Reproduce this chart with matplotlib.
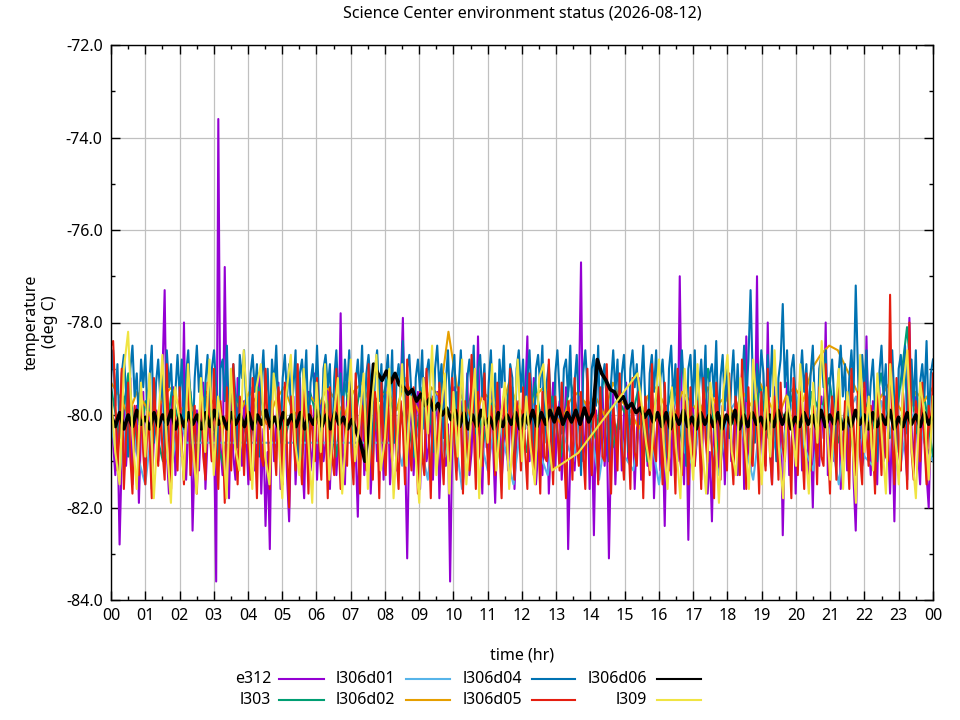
import numpy as np
import matplotlib
matplotlib.use("Agg")
from matplotlib import pyplot as plt
from matplotlib.lines import Line2D
from matplotlib.ticker import MultipleLocator

plt.rcParams['font.family'] = ['Noto Sans', 'DejaVu Sans']
plt.rcParams['font.size'] = 11.5

# ---- data (deg C) ----
# e312, l306d04, l306d05: one reading every ~3.75 min (16 per row = 1 hour)
e312 = [
  -79.4, -80.6, -81.3, -80.2, -82.8, -80.9, -79.6, -81.1, -80.4, -79.2, -81.5, -80.7, -79.8, -81.9, -80.3, -79.5,
  -81.2, -80.1, -79.3, -81.6, -80.5, -79.9, -81.0, -80.2, -79.1, -77.3, -80.8, -81.7, -80.0, -79.4, -81.3, -80.6,
  -79.7, -80.9, -78.0, -81.4, -80.3, -79.5, -82.5, -80.8, -79.9, -81.2, -80.1, -79.3, -81.6, -80.5, -79.8, -81.0,
  -80.4, -83.6, -73.6, -80.7, -81.3, -76.8, -80.2, -81.8, -79.6, -80.9, -81.4, -79.2, -80.6, -81.1, -79.7, -80.3,
  -81.5, -80.0, -79.4, -81.2, -80.6, -79.1, -81.7, -80.3, -82.4, -80.8, -82.9, -79.5, -81.0, -80.2, -79.3, -81.6,
  -80.5, -79.8, -81.3, -82.3, -80.1, -79.6, -81.5, -80.4, -79.2, -80.9, -81.8, -80.0, -79.5, -81.2, -80.7, -79.1,
  -81.4, -80.3, -79.7, -81.0, -80.6, -79.3, -81.6, -80.2, -79.9, -81.3, -80.5, -77.8, -80.8, -81.5, -79.6, -80.1,
  -79.4, -81.1, -80.7, -82.2, -80.0, -79.5, -81.3, -80.4, -79.2, -81.7, -80.6, -79.8, -81.0, -80.3, -79.6, -81.4,
  -80.2, -79.3, -81.5, -80.8, -79.7, -81.2, -80.1, -79.4, -77.9, -80.6, -83.1, -80.4, -79.6, -81.3, -80.0, -79.5,
  -81.6, -80.3, -79.2, -81.0, -80.7, -79.8, -81.4, -80.1, -79.5, -81.8, -80.5, -79.3, -81.1, -80.2, -83.6, -80.6,
  -79.4, -81.2, -80.0, -79.7, -81.5, -80.4, -79.1, -81.3, -80.8, -79.6, -81.0, -78.3, -80.5, -81.7, -79.9, -80.3,
  -81.1, -79.5, -80.6, -81.9, -80.2, -79.3, -81.4, -80.7, -79.8, -81.2, -80.1, -79.4, -81.6, -80.5, -79.7, -80.9,
  -80.3, -79.6, -78.3, -81.0, -80.4, -79.2, -81.5, -80.8, -79.9, -81.3, -80.0, -79.5, -81.7, -80.6, -79.3, -81.1,
  -80.2, -79.7, -81.4, -80.5, -79.4, -82.9, -80.9, -79.8, -81.2, -80.3, -79.6, -76.7, -81.0, -80.4, -79.5, -81.6,
  -80.1, -82.6, -79.9, -81.3, -80.6, -79.4, -81.1, -80.2, -83.1, -80.7, -79.5, -81.5, -80.3, -79.8, -81.2, -80.0,
  -79.3, -81.0, -80.6, -79.7, -81.6, -80.4, -79.2, -81.4, -80.8, -79.6, -81.1, -80.1, -79.4, -81.8, -80.5, -79.9,
  -81.2, -80.3, -82.4, -79.8, -80.9, -81.3, -79.5, -80.6, -81.0, -77.0, -80.4, -81.5, -79.7, -82.7, -80.2, -79.4,
  -81.1, -80.5, -79.6, -81.4, -80.0, -79.3, -81.7, -80.8, -82.3, -80.2, -79.5, -81.2, -80.6, -79.8, -81.5, -80.1,
  -79.4, -81.0, -80.5, -79.7, -81.3, -80.2, -79.1, -81.6, -78.3, -80.7, -81.2, -79.6, -80.4, -77.0, -81.4, -80.3,
  -79.8, -81.1, -78.0, -80.6, -81.5, -79.4, -80.2, -81.0, -79.7, -82.6, -80.4, -79.3, -81.3, -80.8, -79.6, -81.7,
  -80.1, -79.5, -81.2, -80.7, -79.2, -81.4, -80.3, -82.0, -79.8, -80.9, -81.1, -79.6, -80.5, -78.0, -81.3, -80.2,
  -79.7, -81.0, -80.4, -79.3, -81.6, -80.6, -79.9, -81.2, -80.1, -79.5, -81.4, -82.5, -80.3, -79.6, -81.1, -80.8,
  -78.3, -80.5, -81.3, -79.7, -80.2, -81.5, -79.4, -80.9, -81.0, -79.6, -80.4, -81.7, -80.1, -82.3, -79.8, -80.6,
  -81.2, -79.5, -80.7, -81.4, -77.9, -80.3, -81.1, -79.6, -80.8, -81.5, -79.9, -80.4, -81.3, -82.0, -80.2, -79.7,
]

l303 = [
  -79.4, -80.5, -79.1, -80.8, -79.7, -80.2, -81.0, -79.5, -80.3, -79.2, -80.9, -79.6, -80.4, -81.1, -79.3, -80.0,
  -80.7, -79.4, -80.1, -79.0, -80.6, -79.8, -81.0, -79.5, -80.2, -79.7, -80.9, -79.3, -80.4, -79.1, -80.7, -79.9,
  -79.2, -80.5, -79.8, -80.9, -79.4, -80.2, -79.6, -80.8, -79.5, -80.3, -79.0, -80.6, -79.7, -81.0, -79.4, -80.1,
  -80.8, -79.3, -80.4, -79.6, -80.9, -79.2, -80.0, -79.7, -80.5, -79.1, -80.7, -79.8, -80.2, -79.4, -81.0, -79.6,
  -80.1, -79.3, -80.6, -79.9, -80.4, -79.0, -80.8, -79.5, -80.2, -79.6, -80.9, -79.3, -80.5, -79.8, -80.1, -79.4,
  -80.7, -79.5, -80.0, -79.2, -80.6, -79.8, -81.0, -79.6, -80.3, -79.1, -80.5, -79.7, -78.1, -80.4, -79.6, -80.9,
]

# l306d01 has a data gap from 02:12 to 08:21 (joined by a straight line)
l306d01_hr = np.concatenate([np.arange(0, 2.25, 0.25), [2.2, 8.35], np.arange(8.5, 24.01, 0.25)])
l306d01 = [
  -80.2, -81.3, -79.6, -80.8, -81.5, -79.9, -80.6, -81.2, -80.0,
  -80.6, -80.6,
  -81.1, -79.8, -80.5, -81.4, -79.6, -80.9, -80.2, -81.6,
  -79.7, -80.4, -81.2, -79.9, -80.7, -81.5, -80.0, -79.5,
  -80.8, -81.3, -79.8, -80.5, -81.0, -79.6, -80.3, -81.4,
  -80.1, -79.7, -80.9, -81.2, -79.9, -80.4, -81.5, -80.2,
  -79.6, -80.8, -81.1, -79.8, -80.5, -81.3, -80.0, -79.7,
  -80.6, -81.4, -79.9, -80.3, -81.0, -80.1, -79.5, -80.7,
  -81.2, -79.8, -80.4, -81.5, -80.0, -79.6, -80.9, -81.1,
  -79.7, -80.3, -81.3, -80.2, -79.9, -80.6, -81.0,
]

l306d02 = [
  -79.3, -79.6, -80.0, -79.5, -79.8, -80.2, -79.6, -79.4, -79.9, -79.7, -80.1, -79.5, -79.8, -80.3, -79.6, -79.9,
  -79.5, -79.8, -80.2, -79.7, -79.4, -79.9, -80.1, -79.6, -79.8, -79.4, -79.7, -80.0, -79.5, -79.3, -79.8, -79.6,
  -79.5, -79.9, -79.2, -79.7, -80.1, -79.4, -79.6, -78.2, -79.4, -79.8, -80.2, -79.5, -79.7, -80.0, -79.3, -79.8,
  -80.1, -79.6, -79.4, -79.9, -80.2, -79.7, -79.5, -79.8, -79.6, -80.0, -79.3, -79.7, -79.9, -80.3, -79.6, -79.4,
  -79.8, -80.1, -79.5, -79.7, -80.0, -79.4, -79.8, -79.6, -80.0, -79.5, -79.8, -79.3, -79.7, -80.1, -79.6, -79.4,
  -79.7, -79.0, -78.7, -78.5, -78.6, -79.0, -79.4, -79.8, -80.0, -79.6, -79.3, -79.8, -80.1, -79.5, -79.7, -79.4,
]

l306d04 = [
  -79.2, -78.6, -79.8, -78.9, -80.4, -79.1, -78.7, -79.5, -80.9, -79.0, -78.5, -79.6, -79.1, -80.2, -78.8, -79.4,
  -78.7, -79.9, -79.2, -78.5, -80.6, -79.3, -78.8, -79.7, -79.0, -81.0, -78.6, -79.4, -78.9, -80.1, -79.5, -78.7,
  -79.6, -78.8, -80.3, -79.1, -78.6, -79.8, -80.8, -79.2, -78.5, -79.5, -78.9, -80.5, -79.3, -78.7, -79.9, -79.0,
  -78.6, -79.4, -81.1, -79.0, -78.8, -79.7, -78.5, -80.2, -79.3, -78.9, -79.6, -80.7, -78.7, -79.2, -78.6, -79.8,
  -80.4, -79.1, -78.7, -79.5, -78.9, -80.9, -79.3, -78.6, -79.7, -79.0, -80.3, -78.8, -79.4, -78.5, -79.9, -80.6,
  -79.2, -78.7, -79.6, -78.9, -80.1, -79.4, -78.6, -81.0, -79.1, -78.8, -79.5, -78.6, -80.4, -79.3, -78.9, -79.7,
  -78.5, -79.8, -80.5, -79.0, -78.7, -79.4, -78.9, -80.8, -79.2, -78.6, -79.7, -79.1, -80.2, -78.8, -79.5, -78.6,
  -79.9, -80.7, -79.3, -78.8, -79.6, -78.5, -80.3, -79.1, -78.7, -79.4, -81.1, -79.0, -78.6, -79.7, -78.9, -80.4,
  -79.2, -78.7, -79.8, -78.6, -80.6, -79.3, -78.9, -79.5, -78.4, -80.1, -79.0, -78.7, -79.6, -80.9, -79.2, -78.8,
  -79.5, -78.6, -80.3, -79.1, -78.8, -79.7, -80.8, -79.0, -78.5, -79.4, -78.9, -80.5, -79.3, -78.6, -79.9, -79.1,
  -78.7, -80.2, -79.4, -78.6, -79.8, -81.0, -79.2, -78.8, -79.5, -78.5, -80.4, -79.0, -78.7, -79.6, -78.9, -80.7,
  -79.3, -78.6, -79.9, -79.1, -80.5, -78.8, -79.4, -78.5, -80.1, -79.7, -78.9, -79.2, -81.0, -79.0, -78.6, -79.5,
  -78.8, -80.3, -79.2, -78.6, -79.7, -80.9, -79.0, -78.7, -79.4, -78.5, -80.6, -79.3, -78.9, -79.8, -81.2, -79.1,
  -78.6, -79.5, -80.4, -79.0, -78.8, -79.6, -78.5, -80.2, -79.3, -78.7, -79.9, -81.3, -79.1, -78.6, -79.4, -80.7,
  -79.0, -78.7, -79.8, -78.5, -80.5, -79.2, -78.9, -79.6, -81.0, -79.3, -78.6, -79.5, -78.8, -80.3, -79.1, -78.7,
  -79.7, -80.8, -79.0, -78.6, -79.4, -78.9, -80.2, -79.3, -78.5, -79.8, -80.6, -79.1, -78.7, -79.5, -78.6, -80.1,
  -79.2, -78.8, -79.6, -80.9, -79.0, -78.5, -79.7, -78.9, -80.4, -79.3, -78.6, -79.5, -81.1, -79.0, -78.7, -79.8,
  -78.6, -80.2, -79.4, -78.8, -79.7, -78.5, -80.7, -79.1, -78.9, -79.6, -78.4, -80.3, -79.2, -78.7, -79.9, -79.0,
  -80.5, -79.3, -78.6, -79.8, -78.9, -80.1, -79.4, -78.5, -79.7, -78.8, -77.3, -79.2, -80.6, -78.9, -79.5, -78.6,
  -79.1, -80.4, -78.7, -79.6, -78.5, -79.9, -81.0, -79.2, -78.8, -77.6, -79.4, -78.6, -80.3, -79.0, -78.7, -79.7,
  -80.8, -79.3, -78.6, -79.5, -78.9, -80.2, -79.1, -78.5, -79.8, -80.6, -79.0, -78.7, -79.4, -78.6, -80.1, -79.3,
  -78.8, -79.7, -80.9, -79.1, -78.5, -79.6, -78.9, -80.4, -79.2, -78.6, -79.5, -77.2, -79.0, -80.5, -78.7, -79.4,
  -78.6, -80.1, -79.3, -78.8, -79.9, -81.0, -79.1, -78.5, -79.6, -78.9, -80.3, -79.2, -78.6, -79.7, -80.8, -79.0,
  -78.7, -79.5, -78.5, -80.4, -79.2, -78.8, -79.8, -78.6, -80.6, -79.3, -78.9, -79.6, -78.4, -80.2, -79.1, -78.8,
]

l306d05 = [
  -78.5, -78.4, -79.6, -81.2, -80.3, -79.0, -81.6, -80.5, -79.3, -80.9, -81.7, -79.8, -80.4, -81.3, -79.5, -80.8,
  -81.5, -79.9, -80.6, -81.8, -79.2, -80.3, -81.1, -79.7, -80.8, -81.4, -78.9, -80.5, -81.6, -79.6, -80.1, -81.2,
  -79.4, -80.7, -81.5, -80.0, -79.1, -81.3, -80.6, -79.8, -81.7, -80.2, -79.5, -80.9, -81.4, -79.3, -80.4, -81.0,
  -79.0, -80.8, -81.6, -79.7, -80.3, -81.9, -79.4, -80.6, -81.2, -78.9, -80.5, -81.5, -79.6, -80.1, -81.3, -79.8,
  -80.7, -81.4, -79.2, -80.4, -81.8, -79.5, -80.9, -81.1, -79.0, -80.2, -81.6, -79.7, -80.6, -81.3, -79.4, -80.0,
  -81.5, -79.3, -80.7, -82.0, -79.6, -80.4, -81.2, -78.9, -80.8, -81.5, -79.5, -80.2, -81.7, -79.8, -80.5, -81.0,
  -79.2, -80.6, -81.4, -79.7, -80.1, -81.8, -79.4, -80.9, -81.3, -79.0, -80.5, -81.6, -79.6, -80.3, -81.1, -79.3,
  -80.8, -81.5, -79.1, -80.4, -81.7, -79.8, -80.2, -81.2, -78.9, -80.7, -81.4, -79.5, -80.0, -81.8, -79.3, -80.6,
  -81.3, -79.6, -80.5, -81.0, -79.2, -80.8, -81.6, -79.7, -80.3, -81.5, -78.8, -80.6, -81.2, -79.4, -80.1, -81.7,
  -79.5, -80.9, -81.3, -79.0, -80.4, -81.8, -79.6, -80.2, -81.1, -79.3, -80.7, -81.5, -79.8, -80.5, -81.0, -79.2,
  -80.6, -81.4, -79.4, -80.0, -81.7, -79.7, -80.8, -81.2, -78.7, -80.3, -81.6, -79.5, -80.9, -81.1, -79.1, -80.4,
  -81.5, -79.8, -80.2, -81.3, -79.3, -80.7, -81.8, -79.6, -80.4, -81.0, -79.0, -80.6, -81.4, -79.7, -80.1, -81.2,
  -79.4, -80.8, -81.6, -79.1, -80.5, -81.3, -79.8, -80.2, -81.7, -79.5, -80.9, -81.0, -78.8, -80.4, -81.5, -79.6,
  -80.3, -81.2, -79.3, -80.7, -81.8, -79.7, -80.1, -81.4, -79.2, -80.6, -81.1, -79.5, -80.8, -81.6, -79.0, -80.5,
  -81.3, -79.6, -80.2, -81.5, -79.4, -80.9, -81.0, -78.9, -80.6, -81.7, -79.8, -80.3, -81.2, -79.1, -80.7, -81.4,
  -79.7, -80.4, -81.6, -79.2, -80.8, -81.1, -79.5, -80.0, -81.8, -79.6, -80.5, -81.3, -78.9, -80.7, -81.0, -79.4,
  -80.2, -81.5, -79.3, -80.6, -81.2, -79.8, -80.4, -81.7, -79.0, -80.9, -81.3, -79.6, -80.1, -81.5, -79.4, -80.8,
  -81.1, -79.7, -80.3, -81.6, -79.2, -80.5, -81.0, -79.5, -80.8, -81.8, -79.3, -80.2, -81.4, -79.8, -80.6, -81.2,
  -79.1, -80.7, -81.5, -79.6, -80.0, -81.3, -78.8, -80.4, -81.6, -79.4, -80.9, -81.1, -79.7, -80.3, -81.7, -79.5,
  -80.6, -81.2, -79.0, -80.8, -81.5, -79.6, -80.2, -81.4, -79.3, -80.7, -81.0, -79.8, -80.5, -81.8, -79.2, -80.1,
  -81.3, -79.5, -80.7, -81.6, -79.1, -80.4, -81.2, -79.8, -80.0, -81.5, -79.4, -80.9, -81.1, -78.9, -80.6, -81.7,
  -79.6, -80.3, -81.4, -79.2, -80.8, -81.0, -79.7, -80.5, -81.6, -79.0, -80.2, -81.3, -79.5, -80.9, -81.5, -79.3,
  -80.4, -81.1, -79.8, -80.6, -81.7, -79.4, -80.2, -81.3, -79.6, -80.9, -81.0, -77.4, -80.5, -81.5, -79.2, -80.7,
  -81.2, -79.5, -80.3, -81.6, -78.0, -80.8, -81.4, -79.7, -80.1, -81.0, -79.3, -80.6, -81.5, -79.8, -80.4, -79.1,
]

# l306d06: one reading every 7.5 min
l306d06 = [
  -80.0, -80.25, -79.95, -80.3, -80.0, -80.25, -79.9, -80.2, -80.05, -80.3, -79.95, -80.25, -80.0, -80.2, -79.9, -80.3,
  -80.0, -80.25, -79.95, -80.2, -80.0, -80.3, -79.95, -80.25, -79.9, -80.2, -80.05, -80.3, -79.95, -80.2, -80.0, -80.25,
  -79.95, -80.3, -80.0, -80.2, -79.9, -80.25, -80.05, -80.3, -79.95, -80.2, -80.0, -80.25, -79.95, -80.3, -80.0, -80.2,
  -79.9, -80.25, -80.0, -80.3, -79.95, -80.2, -80.05, -80.3, -80.1, -80.35, -80.6, -81.0, -80.2, -78.9, -79.1, -79.25,
  -79.05, -79.3, -79.1, -79.35, -79.4, -79.55, -79.45, -79.7, -79.55, -79.8, -79.65, -79.9, -79.75, -80.0, -79.85, -80.1,
  -79.9, -80.25, -79.95, -80.3, -80.0, -80.25, -79.9, -80.2, -80.05, -80.3, -79.95, -80.25, -80.0, -80.2, -79.95, -80.3,
  -80.0, -80.2, -79.9, -80.25, -79.95, -80.2, -79.9, -80.15, -79.85, -80.2, -79.95, -80.15, -79.9, -80.2, -79.85, -80.15,
  -79.95, -78.8, -79.1, -79.25, -79.45, -79.5, -79.7, -79.6, -79.85, -79.75, -79.95, -79.85, -80.05, -79.9, -80.15, -79.95,
  -80.25, -79.95, -80.3, -80.0, -80.2, -79.9, -80.25, -80.05, -80.3, -79.95, -80.2, -80.0, -80.25, -79.95, -80.3, -80.0,
  -80.2, -79.9, -80.3, -80.0, -80.25, -79.95, -80.2, -80.05, -80.3, -80.0, -80.25, -79.9, -80.2, -79.95, -80.3, -80.05,
  -80.25, -79.95, -80.2, -80.0, -80.3, -79.9, -80.25, -80.0, -80.2, -79.95, -80.3, -80.05, -80.25, -79.9, -80.2, -80.0,
  -80.3, -79.95, -80.25, -80.0, -80.2, -79.9, -80.3, -80.05, -80.25, -79.95, -80.2, -80.0, -80.25, -79.95, -80.2, -80.0,
]

# l309 has a gap between 12:52 and 15:22 with one reading at 13:38
l309_hr = np.concatenate([np.arange(0, 13.0, 0.125), [13.64], np.arange(15.375, 24.01, 0.125)])
l309 = [
  -79.6, -80.8, -81.5, -79.0, -78.2, -80.4, -81.6, -79.3,
  -80.9, -79.1, -81.8, -80.2, -78.7, -80.6, -81.9, -79.4,
  -80.1, -81.4, -78.9, -80.5, -81.7, -79.2, -80.8, -78.8,
  -81.3, -79.6, -80.3, -81.8, -79.0, -80.7, -81.2, -78.6,
  -80.0, -81.6, -79.4, -78.9, -80.9, -81.5, -79.1, -80.2,
  -81.8, -79.5, -78.7, -80.6, -81.3, -79.0, -80.4, -81.9,
  -79.3, -80.8, -78.9, -81.4, -80.1, -79.2, -81.7, -80.3,
  -78.8, -81.0, -80.2, -79.1, -81.6, -79.7, -78.7, -81.2,
  -80.5, -79.0, -81.8, -80.3, -78.9, -81.1, -79.6, -80.7,
  -81.9, -79.2, -80.4, -78.5, -81.3, -80.0, -79.1, -81.7,
  -79.5, -80.9, -78.8, -81.5, -80.2, -79.0, -81.8, -79.7,
  -80.6, -78.9, -81.2, -80.1, -79.3, -81.6, -80.4, -78.8,
  -81.0, -79.6, -80.7, -81.5, -79.2, -78.9, -80.3, -81.2,
  -80.82,
  -79.1, -79.8, -80.6, -81.2, -79.9, -78.8, -80.5, -81.6,
  -79.4, -80.7, -81.8, -79.0, -80.3, -81.4, -78.9, -80.6,
  -81.7, -79.3, -80.1, -81.9, -79.5, -78.7, -80.8, -81.3,
  -79.2, -80.4, -81.6, -78.8, -80.0, -81.5, -79.4, -80.9,
  -78.6, -80.7, -81.8, -79.6, -80.2, -81.1, -78.9, -80.5,
  -81.7, -79.3, -80.6, -78.4, -79.8, -81.4, -80.1, -79.0,
  -81.6, -79.5, -80.3, -81.9, -78.7, -80.8, -79.6, -81.2,
  -79.1, -80.4, -81.7, -78.9, -80.2, -81.5, -79.4, -78.6,
  -80.7, -81.8, -79.3, -80.0, -81.4, -79.6,
]

series = [
  ("e312", None, e312, '#9400d3'),
  ("l303", None, l303, '#009e73'),
  ("l306d01", l306d01_hr, l306d01, '#56b4e9'),
  ("l306d02", None, l306d02, '#e69f00'),
  ("l306d04", None, l306d04, '#0072b2'),
  ("l306d05", None, l306d05, '#e51e10'),
  ("l306d06", None, l306d06, '#000000'),
  ("l309", l309_hr, l309, '#f0e442'),
]

hour_labels = ["%02d" % (h % 24) for h in range(25)]

fig = plt.figure(figsize=(9.6, 7.2), dpi=100)
ax = fig.add_axes([111/960, 1 - 600/720, (933-111)/960, (600-45)/720])

for name, hrs, vals, col in series:
  if hrs is None:
    hrs = np.linspace(0, 24, len(vals))
  lw = 2.6 if name == "l306d06" else 1.5
  ax.plot(hrs, vals, color=col, lw=lw)

ax.set_xlim(0, 24)
ax.set_ylim(-84, -72)
ax.set_xticks(range(25))
ax.set_xticklabels(hour_labels)
ax.xaxis.set_minor_locator(MultipleLocator(0.5))
ax.set_yticks(np.arange(-84, -71, 2))
ax.set_yticklabels(["%.1f" % v for v in np.arange(-84, -71, 2)])
ax.yaxis.set_minor_locator(MultipleLocator(1))
ax.tick_params(which='both', direction='in', top=True, right=True, width=1, color='black')
ax.tick_params(which='major', length=6.5, pad=6, labelsize=11.5)
ax.tick_params(which='minor', length=3.2)
ax.grid(True, which='major', color='#c0c0c0', lw=0.9)
ax.set_axisbelow(True)
for sp in ax.spines.values():
  sp.set_linewidth(1)
  sp.set_zorder(5)

fig.text(522/960, 1 - 13/720, "Science Center environment status (2026-08-12)", ha='center', va='center')
fig.text(41/960, 1 - 322/720, "temperature\n(deg C)", rotation=90, ha='center', va='center', multialignment='center')
fig.text(522/960, 1 - 655/720, "time (hr)", ha='center', va='center')

# legend drawn gnuplot style: label right-aligned, sample after it
text_right = [271, 395, 522, 647]
line_x = [(279, 324), (406, 450), (532, 575), (657, 701)]
row_y = [679, 700]
for i, (name, hrs, vals, col) in enumerate(series):
  c, r = i // 2, i % 2
  y = 1 - row_y[r]/720
  fig.text(text_right[c]/960, y, name, ha='right', va='center')
  fig.add_artist(Line2D([line_x[c][0]/960, line_x[c][1]/960], [y, y], color=col, lw=1.5, transform=fig.transFigure))

fig.savefig("out.png", dpi=100)
